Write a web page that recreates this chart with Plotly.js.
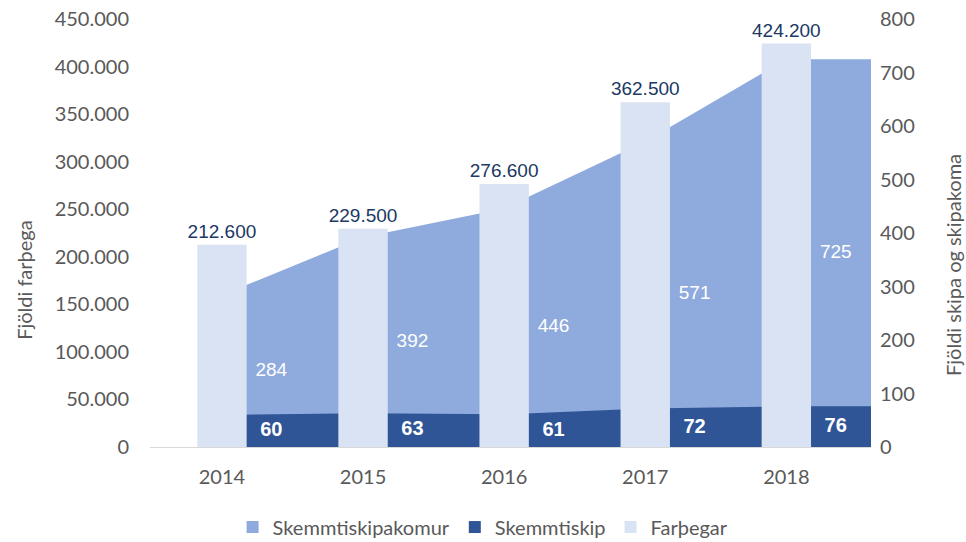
<!DOCTYPE html>
<html>
<head>
<meta charset="utf-8">
<script src="https://cdn.plot.ly/plotly-3.0.1.min.js"></script>
<style>html,body{margin:0;padding:0;background:#fff;} #chart{width:966px;height:542px;}</style>
</head>
<body>
<div id="chart"></div>
<script>
const years = ['2014', '2015', '2016', '2017', '2018'];
const farthegar = [212600, 229500, 276600, 362500, 424200];
const skipakomur = [284, 392, 446, 571, 725];
const skip = [60, 63, 61, 72, 76];

const xIdx = years.map((_, i) => i);
const xRange = [-0.51, 4.6];
// areas run on to the right edge of the plot at the last value
const areaX = xIdx.concat([xRange[1]]);
const ext = arr => arr.concat([arr[arr.length - 1]]);
const labelShift = 0.35;

const gray = '#595959';
const cLight = '#8FAADC', cDark = '#2F5597', cBar = '#DAE3F3';
const tickFont = {family: 'Lato, Carlito, sans-serif', size: 20, color: gray};
const narrow = 'Liberation Sans Narrow, Arial Narrow, Liberation Sans, Arial, sans-serif';

const traces = [
  {
    type: 'scatter', mode: 'none', name: 'Skemmtiskipakomur', showlegend: false, legendgroup: 'a',
    x: areaX, y: ext(skipakomur), fill: 'tozeroy', fillcolor: cLight,
    line: {width: 0}, yaxis: 'y', hoverinfo: 'skip'
  },
  {
    type: 'scatter', mode: 'none', name: 'Skemmtiskip', showlegend: false, legendgroup: 'b',
    x: areaX, y: ext(skip), fill: 'tozeroy', fillcolor: cDark,
    line: {width: 0}, yaxis: 'y', hoverinfo: 'skip'
  },
  {
    type: 'scatter', mode: 'text', showlegend: false, hoverinfo: 'skip',
    x: xIdx.map(i => i + labelShift), y: skipakomur.map(v => v / 2),
    text: skipakomur.map(String), yaxis: 'y',
    textfont: {family: narrow, size: 19, color: '#ffffff'}
  },
  {
    type: 'scatter', mode: 'text', showlegend: false, hoverinfo: 'skip',
    x: xIdx.map(i => i + labelShift), y: skip.map(v => v / 2),
    text: skip.map(v => '<b>' + v + '</b>'), yaxis: 'y',
    textfont: {family: 'Liberation Sans, Arial, sans-serif', size: 20, color: '#ffffff'}
  },
  // legend keys (square swatches, as in the original)
  {type: 'bar', name: 'Skemmtiskipakomur', legendgroup: 'a', x: [null], y: [null], yaxis: 'y', marker: {color: cLight}, hoverinfo: 'skip'},
  {type: 'bar', name: 'Skemmtiskip', legendgroup: 'b', x: [null], y: [null], yaxis: 'y', marker: {color: cDark}, hoverinfo: 'skip'},
  {
    type: 'bar', name: 'Farþegar', x: xIdx, y: farthegar, yaxis: 'y2',
    width: 0.35, marker: {color: cBar},
    texttemplate: '%{y:,}', textposition: 'outside', cliponaxis: false, constraintext: 'none',
    textfont: {family: narrow, size: 19, color: '#203864'},
    hoverinfo: 'skip'
  }
];

const layout = {
  width: 966, height: 542,
  margin: {l: 150, r: 95, t: 19, b: 95, autoexpand: false},
  paper_bgcolor: '#ffffff', plot_bgcolor: '#ffffff',
  separators: ',.',
  barmode: 'overlay',
  showlegend: true,
  xaxis: {
    range: xRange, tickvals: xIdx, ticktext: years,
    showgrid: false, zeroline: false, showline: true, linecolor: '#D9D9D9', linewidth: 1,
    ticks: '', tickfont: tickFont, ticklabelstandoff: 12, fixedrange: true
  },
  yaxis: {
    side: 'right', range: [0, 800], dtick: 100,
    showgrid: false, zeroline: false, showline: false, ticks: '',
    tickfont: tickFont, ticklabelstandoff: 8, fixedrange: true
  },
  yaxis2: {
    overlaying: 'y', side: 'left', range: [0, 450000], dtick: 50000,
    tickformat: ',d', showgrid: false, zeroline: false, showline: false, ticks: '',
    tickfont: tickFont, ticklabelstandoff: 20, fixedrange: true
  },
  legend: {
    orientation: 'h', x: 0.462, xanchor: 'center', y: -0.187, yanchor: 'middle',
    font: {family: 'Lato, Carlito, sans-serif', size: 20, color: gray},
    itemwidth: 30, tracegroupgap: 0, traceorder: 'normal'
  },
  annotations: [
    {text: 'Fjöldi farþega', xref: 'paper', yref: 'paper', x: -0.175, y: (447 - 280) / 428,
     xanchor: 'center', yanchor: 'middle', textangle: -90, showarrow: false,
     font: {family: 'Lato, Carlito, sans-serif', size: 20, color: gray}},
    {text: 'Fjöldi skipa og skipakoma', xref: 'paper', yref: 'paper', x: (953 - 150) / 721, y: (447 - 265) / 428,
     xanchor: 'center', yanchor: 'middle', textangle: -90, showarrow: false,
     font: {family: 'Lato, Carlito, sans-serif', size: 20, color: gray}}
  ]
};

Plotly.newPlot('chart', traces, layout, {displayModeBar: false, staticPlot: true});
</script>
</body>
</html>
